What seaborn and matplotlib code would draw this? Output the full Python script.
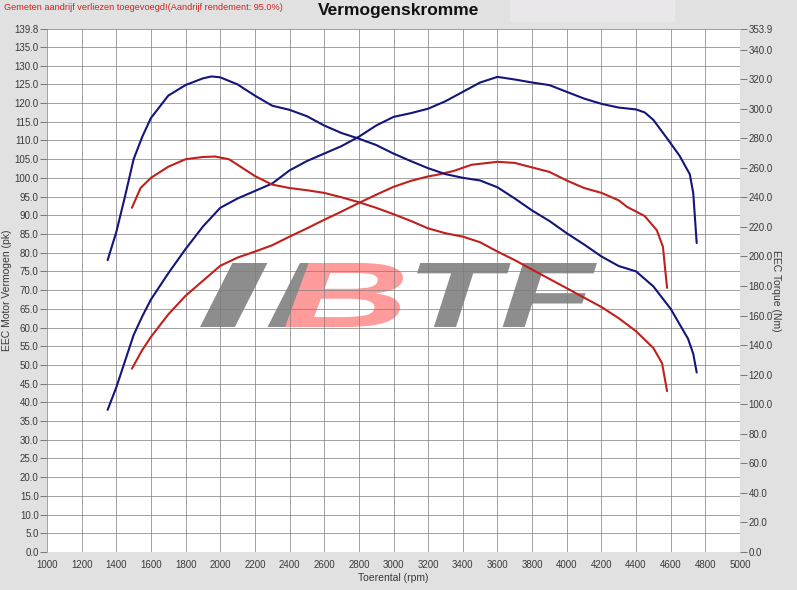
import numpy as np
import pandas as pd
import matplotlib
matplotlib.use("Agg")
import matplotlib.pyplot as plt
import seaborn as sns
from matplotlib.patches import Rectangle, PathPatch
from matplotlib.textpath import TextPath
from matplotlib.font_manager import FontProperties
from matplotlib.transforms import Affine2D

# --- data ---
# tuned (blue) power, pk
rpm_pow_blue = [1350, 1400, 1450, 1500, 1550, 1600, 1700, 1800, 1900, 2000, 2100, 2200, 2300,
                2400, 2500, 2600, 2700, 2800, 2900, 3000, 3100, 3200, 3300, 3400, 3500, 3600,
                3700, 3800, 3900, 4000, 4100, 4200, 4300, 4400, 4450, 4500, 4580, 4650, 4710,
                4730, 4750]
pow_blue = [38, 44, 51, 58, 63, 67.5, 74.5, 81, 87, 92, 94.5, 96.5, 98.5,
            102, 104.5, 106.5, 108.5, 111, 114, 116.3, 117.3, 118.5, 120.5, 123, 125.5, 127,
            126.3, 125.5, 124.8, 123, 121.2, 119.8, 118.8, 118.3, 117.5, 115.5, 110.5, 106, 101,
            96, 82.6]

# tuned (blue) torque, Nm
rpm_trq_blue = [1350, 1400, 1450, 1500, 1550, 1600, 1700, 1800, 1900, 1950, 2000, 2100, 2200,
                2300, 2400, 2500, 2600, 2700, 2800, 2900, 3000, 3100, 3200, 3300, 3400, 3500,
                3600, 3700, 3800, 3900, 4000, 4100, 4200, 4300, 4400, 4500, 4600, 4650, 4700,
                4730, 4750]
trq_blue = [197.5, 216.5, 240.5, 265.8, 281, 293.7, 308.8, 316, 320.5, 321.8, 321.2, 316.4, 308.8,
            302, 299.2, 294.9, 288.6, 283.5, 279.7, 275.4, 269.6, 264.5, 259.7, 255.7, 253.2, 251.4,
            246.8, 239.2, 231.1, 224, 215.7, 208.1, 200, 193.5, 189.9, 179.7, 164.5, 154.4, 144.3,
            134.2, 121.5]

# stock (red) power, pk
rpm_pow_red = [1490, 1550, 1600, 1700, 1800, 1900, 2000, 2100, 2200, 2300, 2400, 2500, 2600,
               2700, 2800, 2900, 3000, 3100, 3200, 3250, 3350, 3450, 3600, 3700, 3800, 3900,
               4000, 4100, 4200, 4300, 4350, 4450, 4520, 4555, 4579]
pow_red = [49, 54, 57.5, 63.5, 68.5, 72.5, 76.5, 78.7, 80.3, 82, 84.3, 86.5, 88.8,
           91, 93.3, 95.5, 97.6, 99.2, 100.4, 100.8, 101.9, 103.5, 104.3, 104, 102.8, 101.6,
           99.3, 97.3, 96, 94, 92.2, 89.8, 86, 81.6, 70.6]

# stock (red) torque, Nm
rpm_trq_red = [1490, 1540, 1600, 1700, 1800, 1900, 1970, 2050, 2100, 2200, 2300, 2400, 2500,
               2600, 2700, 2800, 2900, 3000, 3100, 3200, 3300, 3400, 3500, 3600, 3700, 3800,
               3900, 4000, 4100, 4200, 4300, 4400, 4500, 4550, 4579]
trq_red = [232.9, 246.3, 253.2, 260.7, 265.8, 267.3, 267.6, 265.8, 262, 254.4, 248.6, 246.3, 244.8,
           243, 240, 236.7, 232.9, 228.6, 224, 219, 215.7, 213.4, 209.6, 203.3, 197.5, 191.1,
           184.8, 178.5, 172.1, 165.8, 158.2, 149.4, 138, 127.8, 108.9]

pow_ticks = list(np.arange(0, 136, 5.0)) + [139.8]
trq_ticks = list(np.arange(0, 341, 20.0)) + [353.9]
rpm_ticks = list(range(1000, 5001, 200))

sns.set_style("white", {"axes.facecolor": "white"})
plt.rcParams['font.family'] = ['Liberation Sans', 'DejaVu Sans']

blue = "#14157a"
red = "#c0201c"
txt = "#3a3a3a"
W, H = 797, 590

fig = plt.figure(figsize=(W / 100, H / 100), dpi=100)
fig.patch.set_facecolor("#e1e1e1")
fig.patches.append(Rectangle((510 / W, 1 - 22 / H), 165 / W, 22 / H,
                             transform=fig.transFigure, facecolor="#e9e7ea",
                             edgecolor="none", zorder=0))
ax = fig.add_axes([47 / W, 1 - 552 / H, 693 / W, 523 / H])
ax.patch.set_facecolor("white")
ax2 = ax.twinx()


# watermark logo, stretched into pixel boxes (x from left, y from top)
def logo(s, x0, x1, ytop, ybot, color, z):
    tp = TextPath((0, 0), s, size=1,
                  prop=FontProperties(family="Liberation Sans", weight="bold", style="italic"))
    ext = tp.get_extents()
    tr = (Affine2D().translate(-ext.x0, -ext.y0)
          .scale((x1 - x0) / ext.width, (ybot - ytop) / ext.height)
          .translate(x0, H - ybot).scale(1 / W, 1 / H) + fig.transFigure)
    ax.add_patch(PathPatch(tp, transform=tr, facecolor=color, edgecolor="none", zorder=z))


logo("II", 200, 335, 263, 327, "#8d8d8d", 0.5)
logo("B", 285, 403, 263, 327, "#ff9b9b", 0.6)
logo("TF", 417, 597, 263, 327, "#8d8d8d", 0.5)

# grid
for r in rpm_ticks:
    ax.axvline(r, color="#7c7c7c", lw=0.5, zorder=1)
for p in pow_ticks:
    ax.axhline(p, color="#7c7c7c", lw=0.5, zorder=1)

sns.lineplot(x=rpm_pow_blue, y=pow_blue, ax=ax, color=blue, lw=1.5, zorder=3)
sns.lineplot(x=rpm_pow_red, y=pow_red, ax=ax, color=red, lw=1.5, zorder=3)
sns.lineplot(x=rpm_trq_blue, y=trq_blue, ax=ax2, color=blue, lw=1.5, zorder=3)
sns.lineplot(x=rpm_trq_red, y=trq_red, ax=ax2, color=red, lw=1.5, zorder=3)

ax.set_xlim(1000, 5000)
ax.set_ylim(0, 139.8)
ax2.set_ylim(0, 353.9)

ax.set_xticks(rpm_ticks)
ax.set_xticklabels([str(r) for r in rpm_ticks], fontsize=7, color=txt)
ax.set_yticks(pow_ticks)
ax.set_yticklabels([f"{p:.1f}" for p in pow_ticks], fontsize=7, color=txt)
ax2.set_yticks(trq_ticks)
ax2.set_yticklabels([f"{t:.1f}" for t in trq_ticks], fontsize=7, color=txt)

for a in (ax, ax2):
    a.tick_params(axis="both", direction="out", length=5, width=0.7, color="#777777", pad=1)
    for s in a.spines.values():
        s.set_visible(False)

ax.set_xlabel("Toerental (rpm)", fontsize=7.5, color=txt, labelpad=2)
ax.set_ylabel("EEC Motor Vermogen (pk)", fontsize=7.5, color=txt)
ax.yaxis.set_label_coords(-0.05, 0.5)
ax2.set_ylabel("EEC Torque (Nm)", fontsize=7.5, color=txt, rotation=270, va="center")
ax2.yaxis.set_label_coords(1.052, 0.5)

fig.text(0.5, 1 - 11 / H, "Vermogenskromme", ha="center", va="center",
         fontsize=12.5, fontweight="bold", color="#111111")
fig.text(4 / W, 1 - 7 / H, "Gemeten aandrijf verliezen toegevoegd!(Aandrijf rendement: 95.0%)",
         ha="left", va="center", fontsize=6.6, color="#d02020")

fig.savefig("out.png", dpi=100)
